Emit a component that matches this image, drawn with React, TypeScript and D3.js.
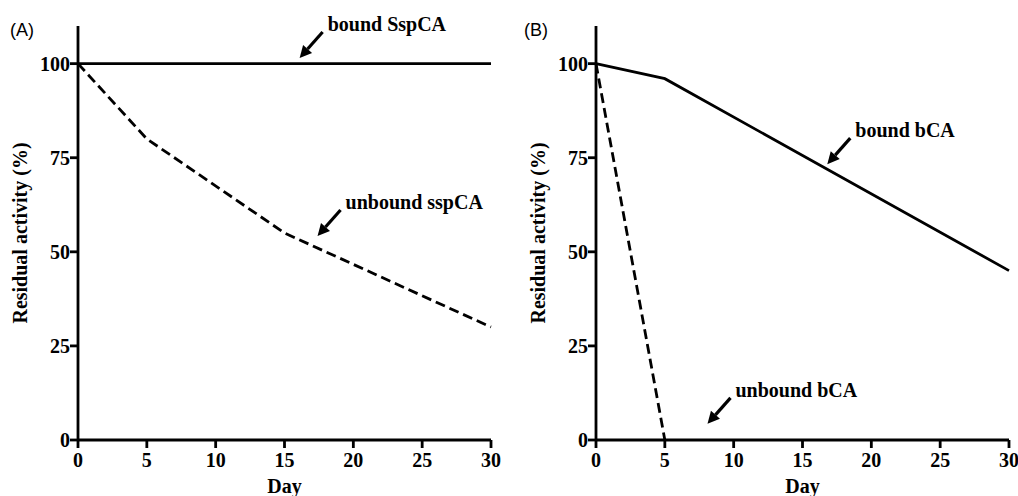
import React from "react";
import * as d3 from "d3";

const days = [0, 5, 10, 15, 20, 25, 30];
const yTicks = [0, 25, 50, 75, 100];

const boundSspDays = [0, 30];
const boundSspValues = [100, 100];
const unboundSspDays = [0, 5, 15, 30];
const unboundSspValues = [100, 80, 55, 30];

const boundBcaDays = [0, 5, 30];
const boundBcaValues = [100, 96, 45];
const unboundBcaDays = [0, 5];
const unboundBcaValues = [100, 0];

const annotationsA = [
  { label: "bound SspCA", day: 16.1, value: 101.5 },
  { label: "unbound sspCA", day: 17.4, value: 54.2 },
];
const annotationsB = [
  { label: "bound bCA", day: 16.8, value: 73.3 },
  { label: "unbound bCA", day: 8.1, value: 4.3 },
];

const SERIF = "'Liberation Serif', 'Times New Roman', serif";
const SANS = "'Liberation Sans', Arial, sans-serif";
const FS = 20;

type Series = { days: number[]; values: number[]; dashed: boolean };

function Panel({
  x0,
  x1,
  letter,
  series,
  annotations,
  titleX,
  letterX,
}: {
  x0: number;
  x1: number;
  letter: string;
  series: Series[];
  annotations: { label: string; day: number; value: number }[];
  titleX: number;
  letterX: number;
}) {
  const x = d3.scaleLinear().domain([0, 30]).range([x0, x1]);
  const y = d3.scaleLinear().domain([0, 110]).range([440, 26]);
  const line = d3
    .line<[number, number]>()
    .x((d) => x(d[0]))
    .y((d) => y(d[1]));
  const sw = 2.8;
  return (
    <g>
      <text x={letterX} y={30} fontFamily={SANS} fontSize={18} dominantBaseline="central">
        {letter}
      </text>
      {series.map((s, i) => (
        <path
          key={i}
          d={line(s.days.map((d, j) => [d, s.values[j]] as [number, number])) || ""}
          fill="none"
          stroke="#000"
          strokeWidth={sw}
          strokeDasharray={s.dashed ? "10,5" : undefined}
        />
      ))}
      <line x1={x(0)} x2={x(0)} y1={y(110)} y2={y(0)} stroke="#000" strokeWidth={sw} />
      <line x1={x(0)} x2={x(30)} y1={y(0)} y2={y(0)} stroke="#000" strokeWidth={sw} />
      {yTicks.map((t) => (
        <g key={"y" + t}>
          <line x1={x(0) - 8} x2={x(0)} y1={y(t)} y2={y(t)} stroke="#000" strokeWidth={sw} />
          <text
            x={x(0) - 8}
            y={y(t)}
            textAnchor="end"
            dominantBaseline="central"
            fontFamily={SERIF}
            fontWeight="bold"
            fontSize={FS}
          >
            {t}
          </text>
        </g>
      ))}
      {days.map((t) => (
        <g key={"x" + t}>
          <line x1={x(t)} x2={x(t)} y1={y(0)} y2={y(0) + 8} stroke="#000" strokeWidth={sw} />
          <text
            x={x(t)}
            y={y(0) + 20}
            textAnchor="middle"
            dominantBaseline="central"
            fontFamily={SERIF}
            fontWeight="bold"
            fontSize={FS}
          >
            {t}
          </text>
        </g>
      ))}
      <text
        x={(x(0) + x(30)) / 2}
        y={486}
        textAnchor="middle"
        dominantBaseline="central"
        fontFamily={SERIF}
        fontWeight="bold"
        fontSize={FS}
      >
        Day
      </text>
      <text
        transform={`translate(${titleX},${y(55)}) rotate(-90)`}
        textAnchor="middle"
        dominantBaseline="central"
        fontFamily={SERIF}
        fontWeight="bold"
        fontSize={FS}
      >
        Residual activity (%)
      </text>
      {annotations.map((a) => {
        const tx = x(a.day);
        const ty = y(a.value);
        const bx = tx + 23;
        const by = ty - 26;
        const ang = Math.atan2(ty - by, tx - bx);
        const hl = 12;
        const hw = 6;
        const px = tx - hl * Math.cos(ang);
        const py = ty - hl * Math.sin(ang);
        const nx = -Math.sin(ang);
        const ny = Math.cos(ang);
        return (
          <g key={a.label}>
            <line x1={bx} y1={by} x2={px} y2={py} stroke="#000" strokeWidth={3.2} />
            <polygon
              points={`${tx},${ty} ${px + nx * hw},${py + ny * hw} ${px - nx * hw},${py - ny * hw}`}
              fill="#000"
            />
            <text
              x={tx + 28}
              y={ty - 34}
              dominantBaseline="central"
              fontFamily={SERIF}
              fontWeight="bold"
              fontSize={FS}
            >
              {a.label}
            </text>
          </g>
        );
      })}
    </g>
  );
}

export default function App() {
  return (
    <svg
      width={1018}
      height={496}
      style={{ position: "absolute", left: 0, top: 0, background: "#fff" }}
    >
      <Panel
        x0={78}
        x1={491}
        letter="(A)"
        letterX={10}
        titleX={20}
        series={[
          { days: boundSspDays, values: boundSspValues, dashed: false },
          { days: unboundSspDays, values: unboundSspValues, dashed: true },
        ]}
        annotations={annotationsA}
      />
      <Panel
        x0={596}
        x1={1009}
        letter="(B)"
        letterX={524}
        titleX={538}
        series={[
          { days: boundBcaDays, values: boundBcaValues, dashed: false },
          { days: unboundBcaDays, values: unboundBcaValues, dashed: true },
        ]}
        annotations={annotationsB}
      />
    </svg>
  );
}
